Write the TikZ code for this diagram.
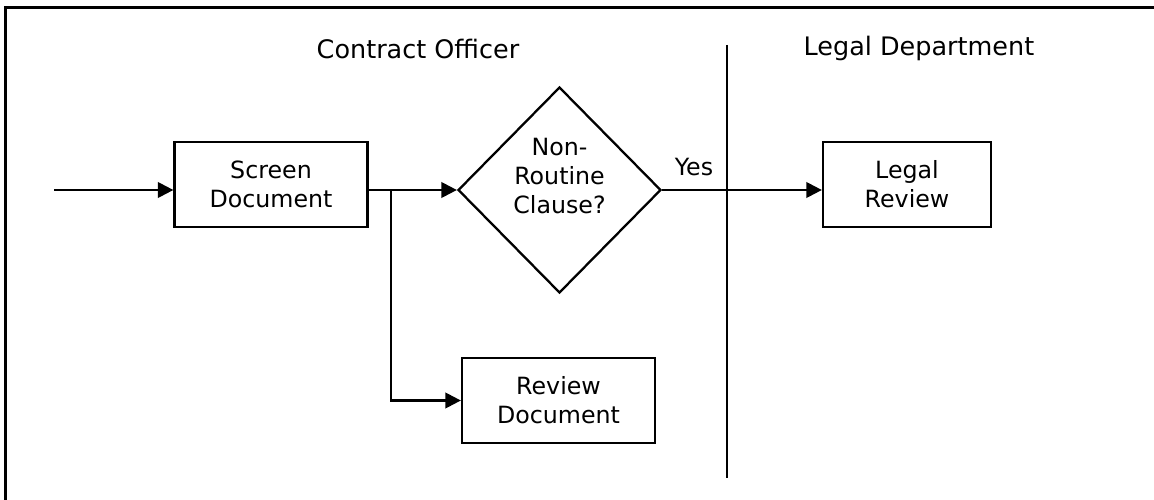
\documentclass[tikz,border=0pt]{standalone}
\usepackage{fontspec}
\setmainfont{DejaVu Sans}
\usetikzlibrary{shapes.geometric,arrows.meta,positioning}

\tikzset{
  stepbox/.style={draw, line width=1.3pt, rectangle, minimum width=3.86cm, minimum height=1.7cm, align=center, inner sep=2pt},
  decide/.style={draw, line width=1.3pt, diamond, minimum width=4.06cm, minimum height=4.12cm, inner sep=0pt},
  flow/.style={line width=1.3pt, -{Triangle[length=0.31cm,width=0.31cm]}},
  lane/.style={font=\fontsize{14.5}{17}\selectfont}
}

\begin{document}
\begin{tikzpicture}[x=0.02cm,y=-0.02cm,font=\fontsize{13.5}{16.4}\selectfont]

\useasboundingbox (0,0) rectangle (1154,500);

\draw[line width=1.4pt] (5.5,500) -- (5.5,7.5) -- (1154,7.5);

% lanes
\node[lane] (officer) at (418,49) {Contract Officer};
\node[lane] (legal) at (919,48) {Legal Department};

\draw[line width=1.3pt] (727,45) -- (727,478);

% steps
\node[stepbox] (screen) at (271,184.5) {Screen\\Document};
\node[decide] (clause) at (559.5,190) {};
\node[align=center] (clausetext) at (559.5,176) {Non-\\Routine\\Clause?};
\node[stepbox] (review) at (558.5,400.5) {Review\\Document};
\node[stepbox, minimum width=3.36cm] (legalrev) at (907,184.5) {Legal\\Review};

\node (yes) at (694,167) {Yes};

% connectors
\coordinate (start) at (54,190);
\coordinate (split) at (391,190);

\draw[flow] (start) -- (start -| screen.west);
\draw[flow] (screen.east |- clause.west) -- (clause.west);
\draw[flow] (split) |- (review.west);
\draw[flow] (clause.east) -- (clause.east -| legalrev.west);

\end{tikzpicture}
\end{document}
